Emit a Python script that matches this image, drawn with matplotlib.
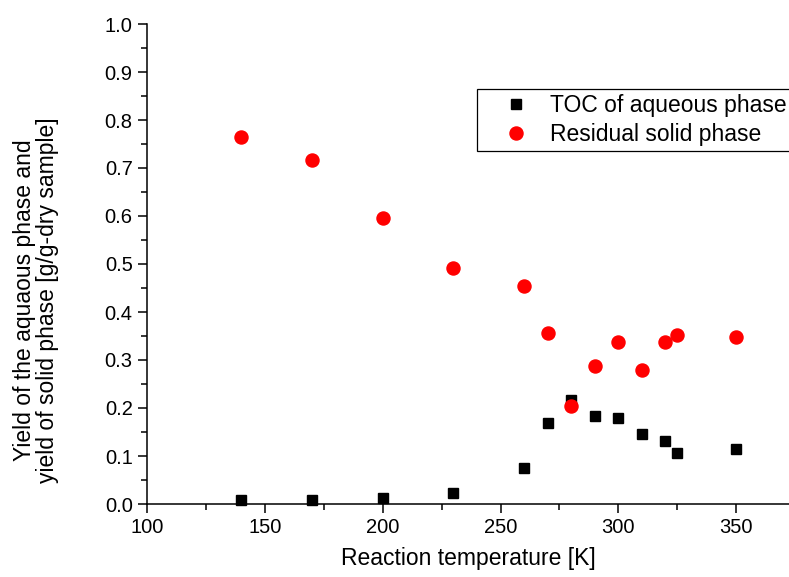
import matplotlib
matplotlib.use("Agg")
import matplotlib.pyplot as plt
from matplotlib.ticker import MultipleLocator

plt.rcParams['font.family'] = ['Liberation Sans', 'DejaVu Sans']

temps = [140, 170, 200, 230, 260, 270, 280, 290, 300, 310, 320, 325, 350]
toc_aqueous = [0.008, 0.008, 0.013, 0.023, 0.076, 0.168, 0.217, 0.183, 0.179, 0.145, 0.131, 0.106, 0.114]
residual_solid = [0.765, 0.717, 0.596, 0.492, 0.454, 0.356, 0.204, 0.287, 0.337, 0.279, 0.337, 0.352, 0.347]

W, H = 789, 577
fig = plt.figure(figsize=(W/100, H/100), dpi=100)
left = 147.3 / W
bottom = 1 - 504 / H
top = 1 - 24 / H
ax = fig.add_axes([left, bottom, 1 - left, top - bottom])

ax.plot(temps, toc_aqueous, linestyle='none', marker='s', color='black',
        markersize=7.8, label='TOC of aqueous phase', clip_on=False, zorder=3)
ax.plot(temps, residual_solid, linestyle='none', marker='o', color='#ff0000',
        markersize=9.4, label='Residual solid phase', clip_on=False, zorder=3)

ax.set_xlim(100, 372.5)
ax.set_ylim(0, 1.0)
ax.xaxis.set_major_locator(MultipleLocator(50))
ax.xaxis.set_minor_locator(MultipleLocator(25))
ax.yaxis.set_major_locator(MultipleLocator(0.1))
ax.yaxis.set_minor_locator(MultipleLocator(0.05))
ax.yaxis.set_major_formatter(plt.FuncFormatter(lambda v, p: f"{v:.1f}"))

for s in ['top', 'right']:
    ax.spines[s].set_visible(False)
for s in ['left', 'bottom']:
    ax.spines[s].set_linewidth(1.1)

ax.tick_params(which='major', direction='out', length=6.5, width=1.1, labelsize=14.5)
ax.tick_params(which='minor', direction='out', length=4, width=1.1)
ax.tick_params(axis='x', which='major', pad=3.5)
ax.tick_params(axis='y', which='major', pad=4)

ax.set_xlabel('Reaction temperature [K]', fontsize=16.5, labelpad=7)
fig.text(36 / W, 1 - 300 / H, 'Yield of the aquaous phase and\nyield of solid phase [g/g-dry sample]',
         rotation=90, ha='center', va='center', multialignment='center', fontsize=16.5,
         linespacing=1.05)

leg = ax.legend(loc='upper left', bbox_to_anchor=(477 / W, 1 - 89 / H, 340 / W, 0),
                bbox_transform=fig.transFigure, mode='expand',
                fancybox=False, edgecolor='black', framealpha=1, fontsize=16.5,
                handletextpad=0.0, borderpad=0.2, labelspacing=0.3, handlelength=3.0,
                borderaxespad=0)
leg.get_frame().set_linewidth(0.9)

fig.savefig('out.png', dpi=100)
